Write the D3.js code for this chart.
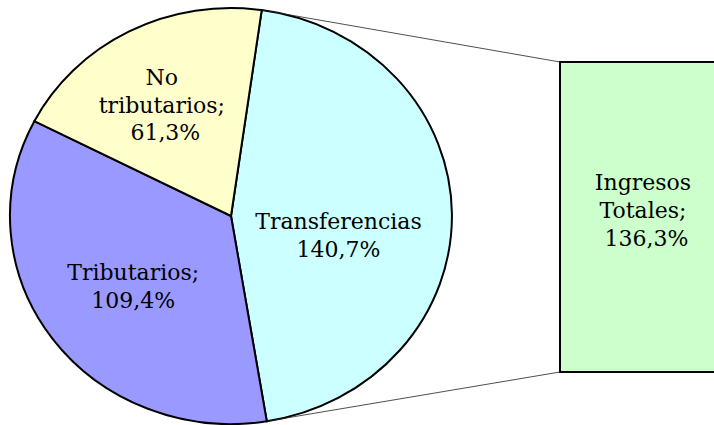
<!DOCTYPE html>
<html>
<head>
<meta charset="utf-8">
<script src="https://cdn.jsdelivr.net/npm/d3@7"></script>
<style>
  body { margin: 0; background: #fff; }
  svg text { font-family: "DejaVu Serif", "Liberation Serif", serif; font-size: 22px; fill: #000; }
</style>
</head>
<body>
<div id="chart"></div>
<script>
// pie slices (clockwise from the top)
var categories = ["Transferencias", "Tributarios;", "No tributarios;"];
var values = [140.7, 109.4, 61.3];
var labelLines = [["Transferencias", "140,7%"], ["Tributarios;", "109,4%"], ["No", "tributarios;", " 61,3%"]];
var sliceColors = ["#CCFFFF", "#9999FF", "#FFFFCC"];

// bar of pie
var barCategory = "Ingresos Totales;";
var barValue = 136.3;
var barLines = ["Ingresos", "Totales;", " 136,3%"];

var width = 714, height = 425;
var cx = 231, cy = 216, rx = 221, ry = 208;
var startOffset = 8 * Math.PI / 180;
var lineH = 27.5;

var svg = d3.select("#chart").append("svg")
    .attr("width", width)
    .attr("height", height);

var pie = d3.pie().sort(null)
    .startAngle(startOffset)
    .endAngle(startOffset + 2 * Math.PI);
var arcs = pie(values);

var arc = d3.arc().innerRadius(0).outerRadius(1);

// pie is drawn on a unit circle then stretched a bit (the original is slightly oval)
var g = svg.append("g")
    .attr("transform", "translate(" + cx + "," + cy + ") scale(" + rx + "," + ry + ")");

g.selectAll("path").data(arcs).enter()
    .append("path")
    .attr("d", arc)
    .attr("fill", function (d, i) { return sliceColors[i]; })
    .attr("stroke", "#000")
    .attr("stroke-width", 2)
    .attr("vector-effect", "non-scaling-stroke");

function pt(a) {
    return [cx + Math.sin(a) * rx, cy - Math.cos(a) * ry];
}

// bar: a single stacked column that is cut off at the right edge
var barX = 560, barW = 200;
var yBar = d3.scaleLinear().domain([0, barValue]).range([372, 62]);

svg.append("rect")
    .attr("x", barX)
    .attr("y", yBar(barValue))
    .attr("width", barW)
    .attr("height", yBar(0) - yBar(barValue))
    .attr("fill", "#CCFFCC")
    .attr("stroke", "#000")
    .attr("stroke-width", 2);

// connector lines from the Transferencias slice edges to the bar corners
var pTop = pt(arcs[0].startAngle), pBot = pt(arcs[0].endAngle);
svg.append("line")
    .attr("x1", pTop[0]).attr("y1", pTop[1])
    .attr("x2", barX).attr("y2", yBar(barValue))
    .attr("stroke", "#222").attr("stroke-width", 0.8);
svg.append("line")
    .attr("x1", pBot[0]).attr("y1", pBot[1])
    .attr("x2", barX).attr("y2", yBar(0))
    .attr("stroke", "#222").attr("stroke-width", 0.8);

// labels: placed around the slice middle, nudged like the original
var labelRadius = [0.5, 0.57, 0.6];
var labelTurn = [14, -3, -4]; // degrees
arcs.forEach(function (d, i) {
    var a = (d.startAngle + d.endAngle) / 2 + labelTurn[i] * Math.PI / 180;
    var x = cx + Math.sin(a) * rx * labelRadius[i];
    var y = cy - Math.cos(a) * ry * labelRadius[i];
    var lines = labelLines[i];
    var t = svg.append("text")
        .attr("text-anchor", "middle")
        .attr("xml:space", "preserve");
    lines.forEach(function (s, k) {
        t.append("tspan")
            .attr("x", x)
            .attr("y", y + (k - (lines.length - 1) / 2) * lineH + 3)
            .text(s);
    });
});

var bt = svg.append("text")
    .attr("text-anchor", "middle")
    .attr("xml:space", "preserve");
barLines.forEach(function (s, k) {
    bt.append("tspan")
        .attr("x", 643)
        .attr("y", yBar(barValue / 2) + (k - 1) * 28 + 1)
        .text(s);
});
</script>
</body>
</html>
